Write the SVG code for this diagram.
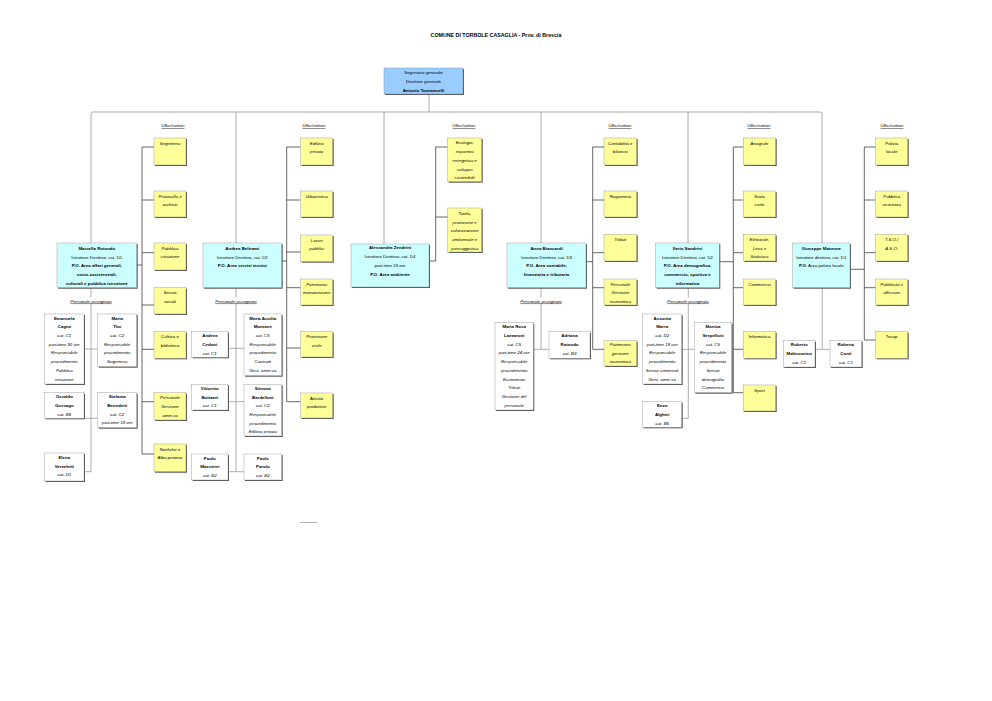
<svg xmlns="http://www.w3.org/2000/svg" width="992" height="701" viewBox="0 0 992 701">
<style>
.t{font-family:"Liberation Sans",Arial,sans-serif;font-size:4.4px;text-anchor:middle;fill:#000}
.ti{font-family:"Liberation Sans",Arial,sans-serif;font-size:5.3px;font-weight:bold;text-anchor:middle;fill:#000}
.b{font-weight:bold}
.i{font-style:italic}
.u{text-decoration:underline}
.sh{fill:#555}
.y{fill:#ffff99;stroke:#8c8c8c;stroke-width:.4}
.w{fill:#fff;stroke:#8c8c8c;stroke-width:.4}
.c{fill:#ccffff;stroke:#8c8c8c;stroke-width:.4}
.top{fill:#99ccff;stroke:#8c8c8c;stroke-width:.4}
.bus{fill:none;stroke:#a0a0a0;stroke-width:.9}
.dk{fill:none;stroke:#404040;stroke-width:.8}
.gr{fill:none;stroke:#9a9a9a;stroke-width:.8}
.lbg{fill:#fff}
</style>
<rect width="992" height="701" fill="#fff"/>
<text class="ti" x="496" y="37">COMUNE DI TORBOLE CASAGLIA - Prov. di Brescia</text>

<g id="connectors">
<path class="bus" d="M91,243 V114 Q91,112 93,112 H820 Q822,112 822,114 V243"/>
<path class="bus" d="M429,94 V112 M236,112 V243 M384,112 V244 M541,112 V243 M688,112 V243"/>
<path class="dk" d="M142,147 V454 M142,147 H154 M142,200 H154 M142,252.7 H154 M142,305 H154 M142,349.3 H154 M142,401.7 H154 M142,454 H154 M136.7,265 H142"/>
<path class="dk" d="M286.7,147 V401.7 M286.7,147 H300.7 M286.7,200 H300.7 M286.7,252 H300.7 M286.7,287.7 H300.7 M286.7,348 H300.7 M286.7,401.7 H300.7 M281.7,261 H286.7"/>
<path class="dk" d="M435.7,147 V261 M435.7,147 H447.7 M435.7,217 H447.7 M429,261 H435.7"/>
<path class="dk" d="M592.7,147 V349.3 M592.7,147 H604 M592.7,200 H604 M592.7,252.7 H604 M592.7,287.7 H604 M592.7,349.3 H604 M586,261.7 H592.7"/>
<path class="dk" d="M733.3,147 V392.7 M733.3,147 H743.3 M733.3,200 H743.3 M733.3,252.7 H743.3 M733.3,287.7 H743.3 M733.3,349.3 H743.3 M733.3,392.7 H743.3 M719.3,261.7 H733.3"/>
<path class="dk" d="M864.3,147 V340 M864.3,147 H875.7 M864.3,200 H875.7 M864.3,252.7 H875.7 M864.3,287.7 H875.7 M864.3,340 H875.7 M850,269.3 H864.3"/>
<path class="gr" d="M91,287.7 V471.7 M84,349 H97.7 M84,418.3 H97.7 M84,471.7 H91"/>
<path class="gr" d="M236,287.7 V471.7 M228,348.3 H244 M228,401.7 H244 M228,471.7 H244"/>
<path class="gr" d="M541,287.7 V349.3 M533.3,349.3 H549"/>
<path class="gr" d="M688.3,287.7 V418.3 M681.7,349.3 H694.3 M681.7,418.3 H688.3"/>
<path class="gr" d="M822.3,287.7 V349.3 M815,349.3 H830"/>
<path class="gr" d="M300,522.5 H317"/>
</g>

<g id="labels">
<text class="t u" x="173" y="127.3">Uffici/settori</text>
<text class="t u" x="314" y="127.3">Uffici/settori</text>
<text class="t u" x="464" y="127.3">Uffici/settori</text>
<text class="t u" x="620" y="127.3">Uffici/settori</text>
<text class="t u" x="759" y="127.3">Uffici/settori</text>
<text class="t u" x="892" y="127.3">Uffici/settori</text>
<rect class="lbg" x="69" y="297.5" width="44" height="6"/>
<text class="t i u" x="91" y="302.6">Personale assegnato</text>
<rect class="lbg" x="214" y="297.5" width="44" height="6"/>
<text class="t i u" x="236" y="302.6">Personale assegnato</text>
<rect class="lbg" x="519" y="297.5" width="44" height="6"/>
<text class="t i u" x="541" y="302.6">Personale assegnato</text>
<rect class="lbg" x="666" y="297.5" width="44" height="6"/>
<text class="t i u" x="688" y="302.6">Personale assegnato</text>
</g>

<g id="n-segretario"><rect class="sh" x="385" y="69" width="79" height="26"/><rect class="top" x="384" y="68" width="79" height="26"/>
<text class="t" x="423.5" y="74.3"><tspan>Segretario generale</tspan><tspan x="423.5" dy="8.7">Direttore generale</tspan><tspan x="423.5" dy="8.7" class="b">Antonio Tommaselli</tspan></text></g>

<!-- Managers -->
<g id="n-rotondo"><rect class="sh" x="58" y="244" width="79.7" height="44.7"/><rect class="c" x="57" y="243" width="79.7" height="44.7"/>
<text class="t" x="96.8" y="249.9"><tspan class="b">Marcella Rotondo</tspan><tspan x="96.8" dy="8.7">Istruttore Direttivo, cat. D1</tspan><tspan x="96.8" dy="8.7" class="b">P.O. Area affari generali,</tspan><tspan x="96.8" dy="8.7" class="b">socio-assistenziali,</tspan><tspan x="96.8" dy="8.7" class="b">culturali e pubblica istruzione</tspan></text></g>
<g id="n-beltrami"><rect class="sh" x="204" y="244" width="78.7" height="44.7"/><rect class="c" x="203" y="243" width="78.7" height="44.7"/>
<text class="t" x="242.3" y="249.9"><tspan class="b">Andrea Beltrami</tspan><tspan x="242.3" dy="8.7">Istruttore Direttivo, cat. D2</tspan><tspan x="242.3" dy="8.7" class="b">P.O. Area servizi tecnici</tspan></text></g>
<g id="n-zendrini"><rect class="sh" x="352" y="245" width="78" height="43"/><rect class="c" x="351" y="244" width="78" height="43"/>
<text class="t" x="390" y="249.4"><tspan class="b">Alessandra Zendrini</tspan><tspan x="390" dy="8.7">Istruttore Direttivo, cat. D4</tspan><tspan x="390" dy="8.7">part-time 18 ore</tspan><tspan x="390" dy="8.7" class="b">P.O. Area ambiente</tspan></text></g>
<g id="n-biancardi"><rect class="sh" x="508" y="244" width="79" height="44.7"/><rect class="c" x="507" y="243" width="79" height="44.7"/>
<text class="t" x="546.5" y="249.9"><tspan class="b">Anna Biancardi</tspan><tspan x="546.5" dy="8.7">Istruttore Direttivo, cat. D3</tspan><tspan x="546.5" dy="8.7" class="b">P.O. Area contabile,</tspan><tspan x="546.5" dy="8.7" class="b">finanziaria e tributaria</tspan></text></g>
<g id="n-sandrini"><rect class="sh" x="656.7" y="244" width="63.6" height="44.7"/><rect class="c" x="655.7" y="243" width="63.6" height="44.7"/>
<text class="t" x="687.5" y="249.9"><tspan class="b">Ilario Sandrini</tspan><tspan x="687.5" dy="8.7">Istruttore Direttivo, cat. D2</tspan><tspan x="687.5" dy="8.7" class="b">P.O. Area demografica,</tspan><tspan x="687.5" dy="8.7" class="b">commercio, sportiva e</tspan><tspan x="687.5" dy="8.7" class="b">informatica</tspan></text></g>
<g id="n-gmazzone"><rect class="sh" x="793.7" y="244" width="57.3" height="44.7"/><rect class="c" x="792.7" y="243" width="57.3" height="44.7"/>
<text class="t" x="821.3" y="249.9"><tspan class="b">Giuseppe Mazzone</tspan><tspan x="821.3" dy="8.7">Istruttore direttivo, cat. D1</tspan><tspan x="821.3" dy="8.7"><tspan class="b">P.O.</tspan> Area polizia locale</tspan></text></g>

<!-- Column 1 offices -->
<g id="u-segreteria"><rect class="sh" x="155" y="139" width="32" height="27"/><rect class="y" x="154" y="138" width="32" height="27"/><text class="t i" x="170" y="144.5">Segreteria</text></g>
<g id="u-protocollo"><rect class="sh" x="155" y="192" width="32" height="26"/><rect class="y" x="154" y="191" width="32" height="26"/><text class="t i" x="170" y="197.5"><tspan>Protocollo e</tspan><tspan x="170" dy="8.7">archivio</tspan></text></g>
<g id="u-pubblicaistr"><rect class="sh" x="155" y="244" width="32" height="27"/><rect class="y" x="154" y="243" width="32" height="27"/><text class="t i" x="170" y="249.5"><tspan>Pubblica</tspan><tspan x="170" dy="8.7">istruzione</tspan></text></g>
<g id="u-servizisociali"><rect class="sh" x="155" y="288.7" width="32" height="26.3"/><rect class="y" x="154" y="287.7" width="32" height="26.3"/><text class="t" x="170" y="294.2"><tspan>Servizi</tspan><tspan x="170" dy="8.7">sociali</tspan></text></g>
<g id="u-cultura"><rect class="sh" x="155" y="332.7" width="32" height="26.6"/><rect class="y" x="154" y="331.7" width="32" height="26.6"/><text class="t" x="170" y="338.2"><tspan>Cultura e</tspan><tspan x="170" dy="8.7">biblioteca</tspan></text></g>
<g id="u-persamm"><rect class="sh" x="155" y="393.7" width="32" height="27.3"/><rect class="y" x="154" y="392.7" width="32" height="27.3"/><text class="t i" x="170" y="399.2"><tspan>Personale</tspan><tspan x="170" dy="8.7">Gestione</tspan><tspan x="170" dy="8.7">amm.va</tspan></text></g>
<g id="u-notifiche"><rect class="sh" x="155" y="445" width="32" height="27.7"/><rect class="y" x="154" y="444" width="32" height="27.7"/><text class="t" x="170" y="450.5"><tspan>Notifiche e</tspan><tspan x="170" dy="8.7">Albo pretorio</tspan></text></g>

<!-- Column 2 offices -->
<g id="u-edilizia"><rect class="sh" x="301.7" y="139" width="32" height="27"/><rect class="y" x="300.7" y="138" width="32" height="27"/><text class="t i" x="316.7" y="144.5"><tspan>Edilizia</tspan><tspan x="316.7" dy="8.7">privata</tspan></text></g>
<g id="u-urbanistica"><rect class="sh" x="301.7" y="192" width="32" height="26"/><rect class="y" x="300.7" y="191" width="32" height="26"/><text class="t" x="316.7" y="197.5">Urbanistica</text></g>
<g id="u-lavori"><rect class="sh" x="301.7" y="236" width="32" height="26.7"/><rect class="y" x="300.7" y="235" width="32" height="26.7"/><text class="t i" x="316.7" y="241.5"><tspan>Lavori</tspan><tspan x="316.7" dy="8.7">pubblici</tspan></text></g>
<g id="u-patrimonioman"><rect class="sh" x="301.7" y="280" width="32" height="26"/><rect class="y" x="300.7" y="279" width="32" height="26"/><text class="t i" x="316.7" y="285.5"><tspan>Patrimonio</tspan><tspan x="316.7" dy="8.7">manutenzione</tspan></text></g>
<g id="u-protezione"><rect class="sh" x="301.7" y="332.7" width="32" height="25.3"/><rect class="y" x="300.7" y="331.7" width="32" height="25.3"/><text class="t i" x="316.7" y="338.2"><tspan>Protezione</tspan><tspan x="316.7" dy="8.7">civile</tspan></text></g>
<g id="u-attivita"><rect class="sh" x="301.7" y="394" width="32" height="25"/><rect class="y" x="300.7" y="393" width="32" height="25"/><text class="t" x="316.7" y="399.5"><tspan>Attività</tspan><tspan x="316.7" dy="8.7">produttive</tspan></text></g>

<!-- Column 3 offices -->
<g id="u-ecologia"><rect class="sh" x="448.7" y="139" width="34" height="43.7"/><rect class="y" x="447.7" y="138" width="34" height="43.7"/><text class="t i" x="464.7" y="144.4"><tspan>Ecologia,</tspan><tspan x="464.7" dy="8.7">risparmio</tspan><tspan x="464.7" dy="8.7">energetico e</tspan><tspan x="464.7" dy="8.7">sviluppo</tspan><tspan x="464.7" dy="8.7">sostenibile</tspan></text></g>
<g id="u-tutela"><rect class="sh" x="448.7" y="209" width="34" height="44"/><rect class="y" x="447.7" y="208" width="34" height="44"/><text class="t i" x="464.7" y="214.9"><tspan>Tutela,</tspan><tspan x="464.7" dy="8.7">protezione e</tspan><tspan x="464.7" dy="8.7">valorizzazione</tspan><tspan x="464.7" dy="8.7">ambientale e</tspan><tspan x="464.7" dy="8.7">paesaggistica</tspan></text></g>

<!-- Column 4 offices -->
<g id="u-contabilita"><rect class="sh" x="605" y="139" width="32.7" height="27"/><rect class="y" x="604" y="138" width="32.7" height="27"/><text class="t" x="620.3" y="144.5"><tspan>Contabilità e</tspan><tspan x="620.3" dy="8.7">bilancio</tspan></text></g>
<g id="u-ragioneria"><rect class="sh" x="605" y="192" width="32.7" height="26"/><rect class="y" x="604" y="191" width="32.7" height="26"/><text class="t" x="620.3" y="197.5">Ragioneria</text></g>
<g id="u-tributi"><rect class="sh" x="605" y="235.3" width="32.7" height="26.7"/><rect class="y" x="604" y="234.3" width="32.7" height="26.7"/><text class="t i" x="620.3" y="240.8">Tributi</text></g>
<g id="u-perseco"><rect class="sh" x="605" y="280" width="32.7" height="26"/><rect class="y" x="604" y="279" width="32.7" height="26"/><text class="t i" x="620.3" y="285.5"><tspan>Personale</tspan><tspan x="620.3" dy="8.7">Gestione</tspan><tspan x="620.3" dy="8.7">economica</tspan></text></g>
<g id="u-patrimonioeco"><rect class="sh" x="605" y="341.7" width="32.7" height="25.3"/><rect class="y" x="604" y="340.7" width="32.7" height="25.3"/><text class="t i" x="620.3" y="346.4"><tspan>Patrimonio</tspan><tspan x="620.3" dy="8.2">gestione</tspan><tspan x="620.3" dy="8.2">economica</tspan></text></g>

<!-- Column 5 offices -->
<g id="u-anagrafe"><rect class="sh" x="744.3" y="139" width="32.4" height="27"/><rect class="y" x="743.3" y="138" width="32.4" height="27"/><text class="t" x="759.5" y="144.5">Anagrafe</text></g>
<g id="u-statocivile"><rect class="sh" x="744.3" y="192" width="32.4" height="26"/><rect class="y" x="743.3" y="191" width="32.4" height="26"/><text class="t" x="759.5" y="197.5"><tspan>Stato</tspan><tspan x="759.5" dy="8.7">civile</tspan></text></g>
<g id="u-elettorale"><rect class="sh" x="744.3" y="235.3" width="32.4" height="26.7"/><rect class="y" x="743.3" y="234.3" width="32.4" height="26.7"/><text class="t i" x="759.5" y="240.8"><tspan>Elettorale,</tspan><tspan x="759.5" dy="8.7">Leva e</tspan><tspan x="759.5" dy="8.7">Statistica</tspan></text></g>
<g id="u-commercio"><rect class="sh" x="744.3" y="280" width="32.4" height="26"/><rect class="y" x="743.3" y="279" width="32.4" height="26"/><text class="t" x="759.5" y="285.5">Commercio</text></g>
<g id="u-informatica"><rect class="sh" x="744.3" y="332.7" width="32.4" height="26.6"/><rect class="y" x="743.3" y="331.7" width="32.4" height="26.6"/><text class="t" x="759.5" y="338.2">Informatica</text></g>
<g id="u-sport"><rect class="sh" x="744.3" y="386" width="32.4" height="26"/><rect class="y" x="743.3" y="385" width="32.4" height="26"/><text class="t i" x="759.5" y="391.5">Sport</text></g>

<!-- Column 6 offices -->
<g id="u-polizia"><rect class="sh" x="876.7" y="139" width="32" height="27"/><rect class="y" x="875.7" y="138" width="32" height="27"/><text class="t" x="891.7" y="144.5"><tspan>Polizia</tspan><tspan x="891.7" dy="8.7">locale</tspan></text></g>
<g id="u-sicurezza"><rect class="sh" x="876.7" y="192" width="32" height="26"/><rect class="y" x="875.7" y="191" width="32" height="26"/><text class="t" x="891.7" y="197.5"><tspan>Pubblica</tspan><tspan x="891.7" dy="8.7">sicurezza</tspan></text></g>
<g id="u-tso"><rect class="sh" x="876.7" y="235.3" width="32" height="26.7"/><rect class="y" x="875.7" y="234.3" width="32" height="26.7"/><text class="t i" x="891.7" y="240.8"><tspan>T.S.O./</tspan><tspan x="891.7" dy="8.7">A.S.O.</tspan></text></g>
<g id="u-affissioni"><rect class="sh" x="876.7" y="280" width="32" height="26"/><rect class="y" x="875.7" y="279" width="32" height="26"/><text class="t i" x="891.7" y="285.5"><tspan>Pubblicità e</tspan><tspan x="891.7" dy="8.7">affissioni</tspan></text></g>
<g id="u-tosap"><rect class="sh" x="876.7" y="332.7" width="32" height="26.6"/><rect class="y" x="875.7" y="331.7" width="32" height="26.6"/><text class="t" x="891.7" y="338.2">Tosap</text></g>

<!-- Staff -->
<g id="p-cagna"><rect class="sh" x="45.7" y="315" width="39.3" height="70"/><rect class="w" x="44.7" y="314" width="39.3" height="70"/><text class="t" x="64.3" y="319.6"><tspan class="b">Emanuela</tspan><tspan x="64.3" dy="8.7" class="b">Cagna</tspan><tspan x="64.3" dy="8.7" class="i">cat. C1</tspan><tspan x="64.3" dy="8.7" class="i">part-time 30 ore</tspan><tspan x="64.3" dy="8.7" class="i">Responsabile</tspan><tspan x="64.3" dy="8.7" class="i">procedimento</tspan><tspan x="64.3" dy="8.7" class="i">Pubblica</tspan><tspan x="64.3" dy="8.7" class="i">istruzione</tspan></text></g>
<g id="p-tito"><rect class="sh" x="98.7" y="315" width="39" height="52.7"/><rect class="w" x="97.7" y="314" width="39" height="52.7"/><text class="t" x="117.2" y="319.6"><tspan class="b">Maria</tspan><tspan x="117.2" dy="8.7" class="b">Tito</tspan><tspan x="117.2" dy="8.7" class="i">cat. C2</tspan><tspan x="117.2" dy="8.7" class="i">Responsabile</tspan><tspan x="117.2" dy="8.7" class="i">procedimento</tspan><tspan x="117.2" dy="8.7" class="i">Segreteria</tspan></text></g>
<g id="p-gussago"><rect class="sh" x="45.7" y="393.7" width="39.3" height="25.6"/><rect class="w" x="44.7" y="392.7" width="39.3" height="25.6"/><text class="t" x="64.3" y="398.3"><tspan class="b">Osvaldo</tspan><tspan x="64.3" dy="8.7" class="b">Gussago</tspan><tspan x="64.3" dy="8.7" class="i">cat. B6</tspan></text></g>
<g id="p-benedetti"><rect class="sh" x="98.7" y="393.7" width="39" height="35"/><rect class="w" x="97.7" y="392.7" width="39" height="35"/><text class="t" x="117.2" y="398.3"><tspan class="b">Stefania</tspan><tspan x="117.2" dy="8.7" class="b">Benedetti</tspan><tspan x="117.2" dy="8.7" class="i">cat. C2</tspan><tspan x="117.2" dy="8.7" class="i">part-time 18 ore</tspan></text></g>
<g id="p-verzeletti"><rect class="sh" x="45.7" y="454" width="39.3" height="28"/><rect class="w" x="44.7" y="453" width="39.3" height="28"/><text class="t" x="64.3" y="458.8"><tspan class="b">Elena</tspan><tspan x="64.3" dy="8.7" class="b">Verzeletti</tspan><tspan x="64.3" dy="8.7" class="i">cat. D1</tspan></text></g>

<g id="p-cedoni"><rect class="sh" x="192.7" y="332.7" width="36.3" height="25.6"/><rect class="w" x="191.7" y="331.7" width="36.3" height="25.6"/><text class="t" x="209.8" y="337.3"><tspan class="b">Andrea</tspan><tspan x="209.8" dy="8.7" class="b">Cedoni</tspan><tspan x="209.8" dy="8.7" class="i">cat. C1</tspan></text></g>
<g id="p-mamazzone"><rect class="sh" x="245" y="315" width="37.7" height="61.7"/><rect class="w" x="244" y="314" width="37.7" height="61.7"/><text class="t" x="262.8" y="319.6"><tspan class="b">Maria Ausilia</tspan><tspan x="262.8" dy="8.7" class="b">Mazzone</tspan><tspan x="262.8" dy="8.7" class="i">cat. C5</tspan><tspan x="262.8" dy="8.7" class="i">Responsabile</tspan><tspan x="262.8" dy="8.7" class="i">procedimento</tspan><tspan x="262.8" dy="8.7" class="i">Contratti</tspan><tspan x="262.8" dy="8.7" class="i">Gest. amm.va</tspan></text></g>
<g id="p-bottazzi"><rect class="sh" x="192.7" y="385.3" width="36.3" height="25.7"/><rect class="w" x="191.7" y="384.3" width="36.3" height="25.7"/><text class="t" x="209.8" y="389.9"><tspan class="b">Vittorino</tspan><tspan x="209.8" dy="8.7" class="b">Bottazzi</tspan><tspan x="209.8" dy="8.7" class="i">cat. C1</tspan></text></g>
<g id="p-bardelloni"><rect class="sh" x="245" y="385.3" width="37.7" height="51.7"/><rect class="w" x="244" y="384.3" width="37.7" height="51.7"/><text class="t" x="262.8" y="389.9"><tspan class="b">Simona</tspan><tspan x="262.8" dy="8.7" class="b">Bardelloni</tspan><tspan x="262.8" dy="8.7" class="i">cat. C2</tspan><tspan x="262.8" dy="8.7" class="i">Responsabile</tspan><tspan x="262.8" dy="8.7" class="i">procedimento</tspan><tspan x="262.8" dy="8.7" class="i">Edilizia privata</tspan></text></g>
<g id="p-maestrini"><rect class="sh" x="192.7" y="455" width="36.3" height="26"/><rect class="w" x="191.7" y="454" width="36.3" height="26"/><text class="t" x="209.8" y="459.6"><tspan class="b">Paolo</tspan><tspan x="209.8" dy="8.7" class="b">Maestrini</tspan><tspan x="209.8" dy="8.7" class="i">cat. B2</tspan></text></g>
<g id="p-parolo"><rect class="sh" x="245" y="455" width="37.7" height="26"/><rect class="w" x="244" y="454" width="37.7" height="26"/><text class="t" x="262.8" y="459.6"><tspan class="b">Paolo</tspan><tspan x="262.8" dy="8.7" class="b">Parolo</tspan><tspan x="262.8" dy="8.7" class="i">cat. B2</tspan></text></g>

<g id="p-lazzaroni"><rect class="sh" x="496" y="323.7" width="38.3" height="87.3"/><rect class="w" x="495" y="322.7" width="38.3" height="87.3"/><text class="t" x="514.2" y="328.3"><tspan class="b">Maria Rosa</tspan><tspan x="514.2" dy="8.7" class="b">Lazzaroni</tspan><tspan x="514.2" dy="8.7" class="i">cat. C5</tspan><tspan x="514.2" dy="8.7" class="i">part-time 24 ore</tspan><tspan x="514.2" dy="8.7" class="i">Responsabile</tspan><tspan x="514.2" dy="8.7" class="i">procedimento</tspan><tspan x="514.2" dy="8.7" class="i">Economato</tspan><tspan x="514.2" dy="8.7" class="i">Tributi</tspan><tspan x="514.2" dy="8.7" class="i">Gestione del</tspan><tspan x="514.2" dy="8.7" class="i">personale</tspan></text></g>
<g id="p-arotondo"><rect class="sh" x="550" y="332.7" width="41" height="26.6"/><rect class="w" x="549" y="331.7" width="41" height="26.6"/><text class="t" x="569.5" y="337.3"><tspan class="b">Adriana</tspan><tspan x="569.5" dy="8.7" class="b">Rotondo</tspan><tspan x="569.5" dy="8.7" class="i">cat. B3</tspan></text></g>

<g id="p-marra"><rect class="sh" x="643.7" y="315" width="39" height="70"/><rect class="w" x="642.7" y="314" width="39" height="70"/><text class="t" x="662.2" y="319.6"><tspan class="b">Assunta</tspan><tspan x="662.2" dy="8.7" class="b">Marra</tspan><tspan x="662.2" dy="8.7" class="i">cat. D2</tspan><tspan x="662.2" dy="8.7" class="i">part-time 18 ore</tspan><tspan x="662.2" dy="8.7" class="i">Responsabile</tspan><tspan x="662.2" dy="8.7" class="i">procedimento</tspan><tspan x="662.2" dy="8.7" class="i">Servizi cimiteriali</tspan><tspan x="662.2" dy="8.7" class="i">Gest. amm.va</tspan></text></g>
<g id="p-serpelloni"><rect class="sh" x="695.3" y="323.7" width="37.4" height="70"/><rect class="w" x="694.3" y="322.7" width="37.4" height="70"/><text class="t" x="713" y="328.3"><tspan class="b">Monica</tspan><tspan x="713" dy="8.7" class="b">Serpelloni</tspan><tspan x="713" dy="8.7" class="i">cat. C5</tspan><tspan x="713" dy="8.7" class="i">Responsabile</tspan><tspan x="713" dy="8.7" class="i">procedimento</tspan><tspan x="713" dy="8.7" class="i">Servizi</tspan><tspan x="713" dy="8.7" class="i">demografici</tspan><tspan x="713" dy="8.7" class="i">Commercio</tspan></text></g>
<g id="p-alghisi"><rect class="sh" x="643.7" y="402.7" width="39" height="25.6"/><rect class="w" x="642.7" y="401.7" width="39" height="25.6"/><text class="t" x="662.2" y="407.3"><tspan class="b">Enzo</tspan><tspan x="662.2" dy="8.7" class="b">Alghisi</tspan><tspan x="662.2" dy="8.7" class="i">cat. B6</tspan></text></g>

<g id="p-malinconico"><rect class="sh" x="784.3" y="341.7" width="31.7" height="26.3"/><rect class="w" x="783.3" y="340.7" width="31.7" height="26.3"/><text class="t" x="799.2" y="346.3"><tspan class="b">Roberto</tspan><tspan x="799.2" dy="8.7" class="b">Malinconico</tspan><tspan x="799.2" dy="8.7" class="i">cat. C1</tspan></text></g>
<g id="p-conti"><rect class="sh" x="831" y="341.7" width="31.7" height="26.3"/><rect class="w" x="830" y="340.7" width="31.7" height="26.3"/><text class="t" x="845.9" y="346.3"><tspan class="b">Roberto</tspan><tspan x="845.9" dy="8.7" class="b">Conti</tspan><tspan x="845.9" dy="8.7" class="i">cat. C1</tspan></text></g>
</svg>
